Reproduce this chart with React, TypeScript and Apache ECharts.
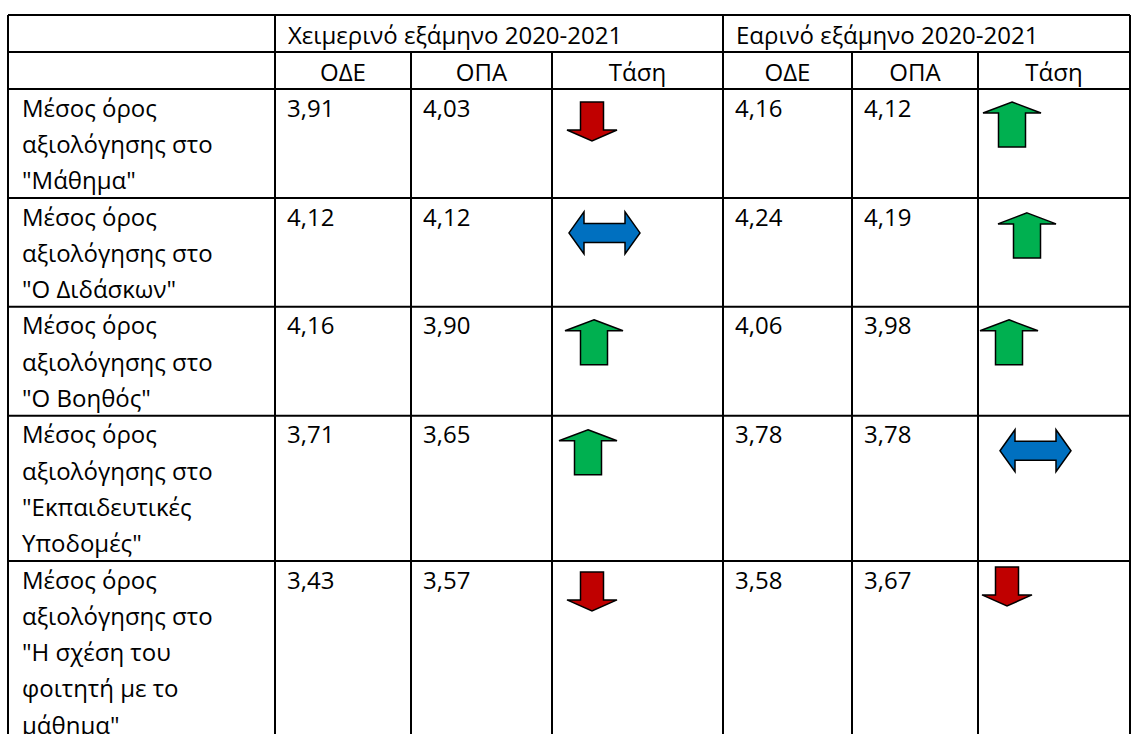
import React, { useEffect, useRef } from "react";
import * as echarts from "echarts";

// ---------- data ----------
const semesters = ["Χειμερινό εξάμηνο 2020-2021", "Εαρινό εξάμηνο 2020-2021"];
const subHeaders = ["ΟΔΕ", "ΟΠΑ", "Τάση"];
const rowLabels = [
  'Μέσος όρος\nαξιολόγησης στο\n"Μάθημα"',
  'Μέσος όρος\nαξιολόγησης στο\n"Ο Διδάσκων"',
  'Μέσος όρος\nαξιολόγησης στο\n"Ο Βοηθός"',
  'Μέσος όρος\nαξιολόγησης στο\n"Εκπαιδευτικές\nΥποδομές"',
  'Μέσος όρος\nαξιολόγησης στο\n"Η σχέση του\nφοιτητή με το\nμάθημα"',
];
const winterODE = [3.91, 4.12, 4.16, 3.71, 3.43];
const winterOPA = [4.03, 4.12, 3.9, 3.65, 3.57];
const springODE = [4.16, 4.24, 4.06, 3.78, 3.58];
const springOPA = [4.12, 4.19, 3.98, 3.78, 3.67];

// ---------- layout ----------
const W = 1132;
const H = 734;
const COLS = [8, 275, 411, 552, 723, 852, 978, 1130];
const TOP = 15;
const HEAD_H = 37;
const LINE_H = 36.3;
const FONT = "'Open Sans', 'Noto Sans', sans-serif";
const FS = 24;
// arrow nudges inside the trend cell [row][semester] -> [dx, dy]
const arrowNudge = [
  [[15, 13], [5, 13]],
  [[17, 14], [20, 15]],
  [[13, 13], [2, 13]],
  [[7, 14], [22, 14]],
  [[15, 11], [4, 6]],
];

const fmt = (v: number) => v.toFixed(2).replace(".", ",");
const trend = (a: number, b: number) => (a > b ? "up" : a < b ? "down" : "equal");

function arrow(kind: string, x: number, y: number): any {
  const stroke = { stroke: "#000", lineWidth: 1.5, lineJoin: "miter" };
  if (kind === "up") {
    const hw = 58, hh = 11, sw = 27, h = 45;
    const cx = x + hw / 2;
    return {
      type: "polygon",
      shape: {
        points: [
          [cx, y], [x + hw, y + hh], [cx + sw / 2, y + hh], [cx + sw / 2, y + h],
          [cx - sw / 2, y + h], [cx - sw / 2, y + hh], [x, y + hh],
        ],
      },
      style: { fill: "#00B050", ...stroke },
    };
  }
  if (kind === "down") {
    const hw = 50, hh = 11, sw = 23, h = 39;
    const cx = x + hw / 2;
    return {
      type: "polygon",
      shape: {
        points: [
          [cx - sw / 2, y], [cx + sw / 2, y], [cx + sw / 2, y + h - hh], [x + hw, y + h - hh],
          [cx, y + h], [x, y + h - hh], [cx - sw / 2, y + h - hh],
        ],
      },
      style: { fill: "#C00000", ...stroke },
    };
  }
  const w = 71, h = 42, st = 19, hl = 15;
  const cy = y + h / 2;
  return {
    type: "polygon",
    shape: {
      points: [
        [x, cy], [x + hl, y], [x + hl, cy - st / 2], [x + w - hl, cy - st / 2], [x + w - hl, y],
        [x + w, cy], [x + w - hl, y + h], [x + w - hl, cy + st / 2], [x + hl, cy + st / 2],
        [x + hl, y + h],
      ],
    },
    style: { fill: "#0070C0", ...stroke },
  };
}

export default function App() {
  const ref = useRef<HTMLDivElement>(null);
  useEffect(() => {
    document.body.style.margin = "0";
    const chart = echarts.init(ref.current!, null, { renderer: "svg" });
    const els: any[] = [];
    const line = (x1: number, y1: number, x2: number, y2: number) =>
      els.push({
        type: "line",
        shape: { x1, y1, x2, y2 },
        style: { stroke: "#000", lineWidth: 2 },
        z: 10,
      });
    const text = (t: string, x: number, y: number, align = "left", va = "top") =>
      els.push({
        type: "text",
        x,
        y,
        style: {
          text: t,
          fontFamily: FONT,
          fontSize: FS,
          lineHeight: LINE_H,
          fill: "#000",
          align,
          verticalAlign: va,
        },
      });

    // row boundaries
    const rowTops = [TOP, TOP + HEAD_H, TOP + 2 * HEAD_H];
    rowLabels.forEach((lab) => {
      const n = lab.split("\n").length;
      rowTops.push(rowTops[rowTops.length - 1] + n * LINE_H);
    });

    // horizontal lines
    rowTops.forEach((y) => {
      if (y <= H) line(COLS[0], y, COLS[COLS.length - 1], y);
    });
    // vertical lines
    COLS.forEach((x, i) => {
      const spanTop = [0, 1, 4, 7].includes(i) ? TOP : TOP + HEAD_H;
      line(x, spanTop, x, H);
    });

    // header row 1
    semesters.forEach((s, i) => {
      text(s, COLS[1 + i * 3] + 13, TOP + HEAD_H / 2 + 1, "left", "middle");
    });
    // header row 2
    [0, 1].forEach((sIdx) => {
      subHeaders.forEach((h, j) => {
        const c = 1 + sIdx * 3 + j;
        text(h, (COLS[c] + COLS[c + 1]) / 2, TOP + HEAD_H * 1.5 + 1, "center", "middle");
      });
    });

    // data rows
    rowLabels.forEach((lab, r) => {
      const top = rowTops[2 + r];
      text(lab, COLS[0] + 14, top, "left", "top");
      const vals = [winterODE[r], winterOPA[r], null, springODE[r], springOPA[r], null];
      vals.forEach((v, k) => {
        if (v !== null) text(fmt(v as number), COLS[1 + k] + 12, top, "left", "top");
      });
      const t1 = trend(winterODE[r], winterOPA[r]);
      const t2 = trend(springODE[r], springOPA[r]);
      [t1, t2].forEach((t, sIdx) => {
        const c = 3 + sIdx * 3;
        const [dx, dy] = arrowNudge[r][sIdx];
        els.push(arrow(t, COLS[c] + dx, top + dy));
      });
    });

    chart.setOption({
      animation: false,
      backgroundColor: "#fff",
      graphic: { elements: els },
    });
    return () => chart.dispose();
  }, []);
  return <div ref={ref} style={{ width: W, height: H }} />;
}
